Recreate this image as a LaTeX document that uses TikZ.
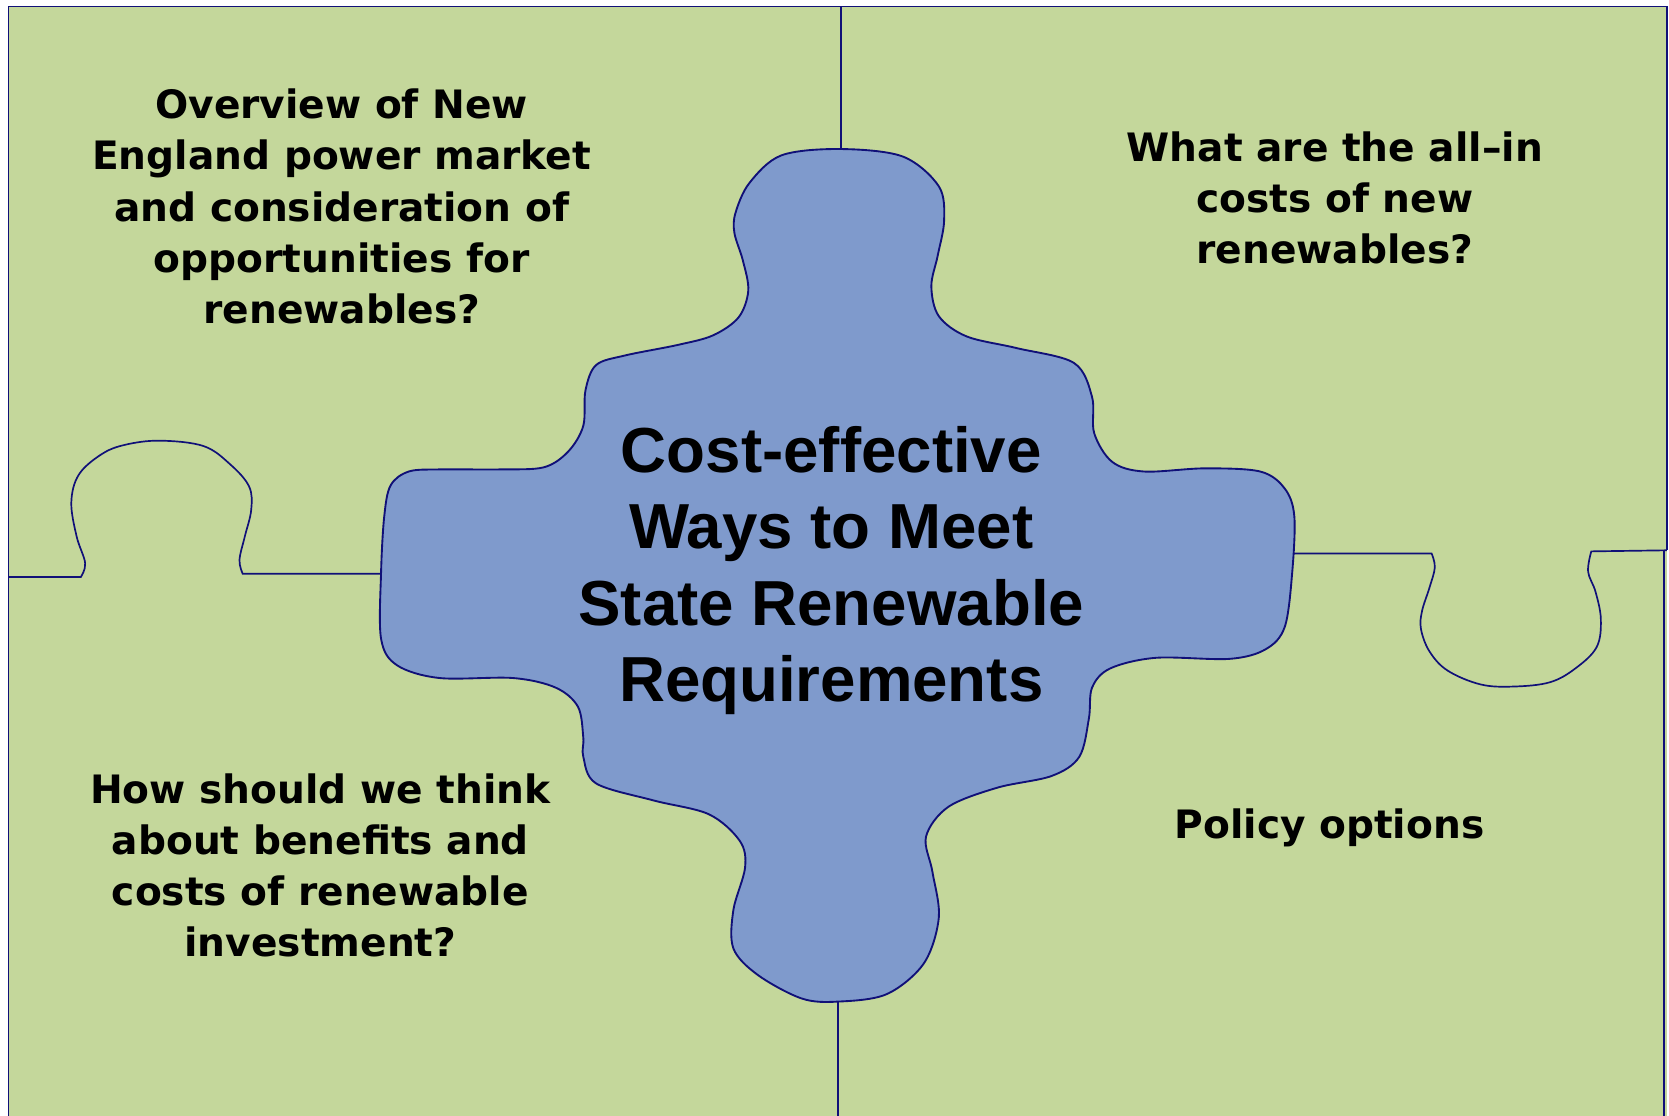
\documentclass[tikz,border=0pt]{standalone}
\usepackage{fontspec}
\setmainfont{DejaVu Sans}
\newfontfamily\headfont{Liberation Sans}
\definecolor{boardgreen}{RGB}{196,215,155}
\definecolor{pieceblue}{RGB}{127,154,204}
\definecolor{edgenavy}{RGB}{16,16,120}

\begin{document}
\begin{tikzpicture}[
  x=0.01cm, y=-0.01cm,
  seam/.style={edgenavy, line width=0.45pt},
  question/.style={font=\bfseries\fontsize{10.45}{13.7}\selectfont, align=center},
  centertext/.style={font=\headfont\bfseries\fontsize{17}{20.4}\selectfont, align=center}
]
  \useasboundingbox (0,0) rectangle (1568,1048);
  \fill[white] (0,0) rectangle (1568,1048);

  % Board
  \fill[boardgreen] (8,6) rectangle (1566,1048);
  \draw[seam] (8,1048) -- (8,6) -- (1566,6) -- (1566,517);
  \draw[seam] (1563,517) -- (1563,1048);

  % Seams between the corner pieces
  \draw[seam] (790,6) -- (790,141);
  \draw[seam] (787,940) -- (787,1048);

  % Left seam with its knob
  \draw[seam] (8,542) -- plot[smooth, tension=0.6] coordinates {
    (76,542) (80,529) (72,504) (67,472) (74,446) (95,427) (117,418)
    (150,414) (191,419) (216,436) (234,457) (236,479) (230,504)
    (225,526) (228,539)} -- (359,539);

  % Right seam with its socket
  \draw[seam] (1214,520) -- plot[smooth, tension=0.6] coordinates {
    (1345,520) (1348,533) (1343,552) (1336,574) (1335,591) (1343,612)
    (1360,630) (1391,643) (1422,645) (1456,641) (1480,628) (1500,608)
    (1504,582) (1499,556) (1492,537) (1495,518)} -- (1566,517);

  % Centre piece
  \filldraw[fill=pieceblue, draw=edgenavy, line width=0.5pt]
    plot[smooth cycle, tension=0.55] coordinates {
    (789,140) (848,147) (882,175) (887,207) (881,240) (875,269) (882,297)
    (908,316) (955,327) (1009,341) (1026,373) (1028,407) (1045,434)
    (1075,443) (1132,440) (1184,443) (1207,459) (1216,485) (1214,538)
    (1207,589) (1189,610) (1155,619) (1086,618) (1043,628) (1026,646)
    (1023,675) (1014,711) (988,729) (937,740) (891,758) (870,786)
    (876,819) (882,862) (868,905) (833,934) (787,941) (753,938)
    (712,916) (689,891) (689,855) (700,815) (695,790) (666,765)
    (614,752) (560,736) (548,711) (548,693) (543,664) (522,646)
    (482,637) (413,637) (373,625) (358,600) (358,538) (361,485)
    (367,456) (384,443) (413,441) (470,441) (511,439) (534,424)
    (548,400) (550,367) (560,343) (587,334) (637,324) (670,315)
    (694,298) (703,273) (698,245) (690,219) (691,200) (704,172)
    (734,146)};

  % Labels
  \node[centertext] (goal) at (781,536)
    {Cost-effective\\Ways to Meet\\State Renewable\\Requirements};
  \node[question] (market) at (321,194)
    {Overview of New\\England power market\\and consideration of\\opportunities for\\renewables?};
  \node[question] (costs) at (1254,186)
    {What are the all--in\\costs of new\\renewables?};
  \node[question] (benefits) at (301,813)
    {How should we think\\about benefits and\\costs of renewable\\investment?};
  \node[question] (policy) at (1249,778) {Policy options};
\end{tikzpicture}
\end{document}
